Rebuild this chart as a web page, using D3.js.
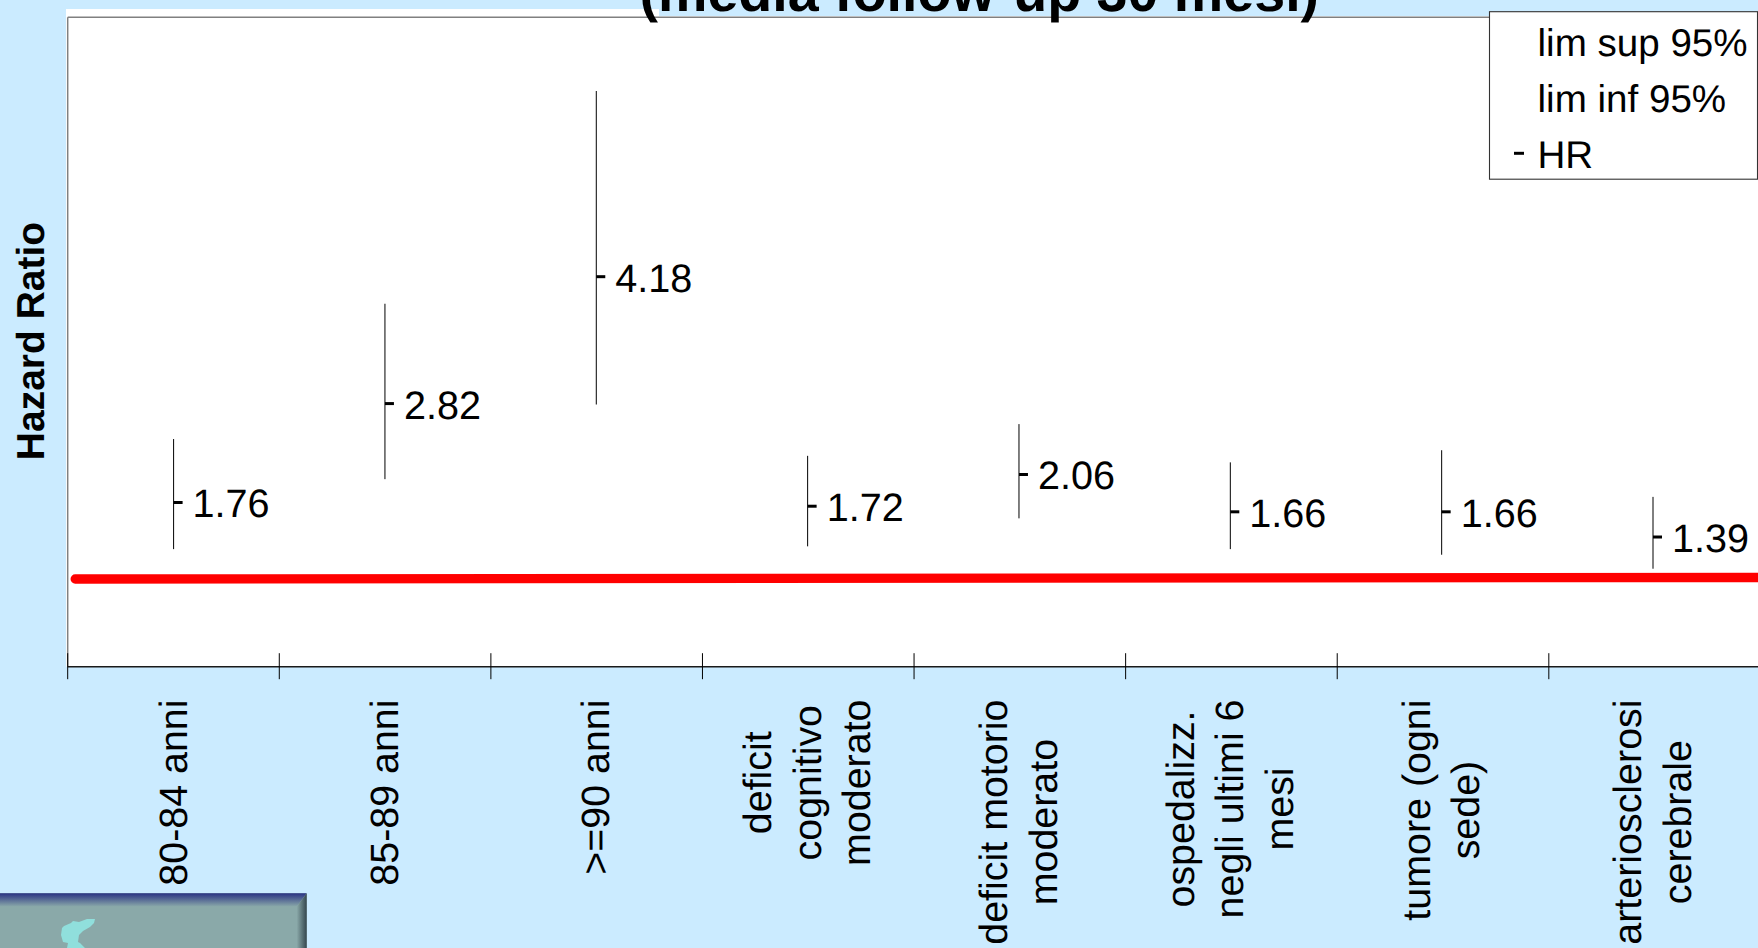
<!DOCTYPE html>
<html>
<head>
<meta charset="utf-8">
<script src="https://cdn.jsdelivr.net/npm/d3@7"></script>
<style>
  html, body { margin: 0; padding: 0; background: #cbebff; overflow: hidden; }
  svg { display: block; font-family: "Liberation Sans", Arial, sans-serif; text-rendering: geometricPrecision; }
  text { fill: #000; }
</style>
</head>
<body>
<div id="chart"></div>
<script>
// Hazard ratios with 95% confidence limits
const categories = [
  ["80-84 anni"],
  ["85-89 anni"],
  [">=90 anni"],
  ["deficit", "cognitivo", "moderato"],
  ["deficit motorio", "moderato"],
  ["ospedalizz.", "negli ultimi 6", "mesi"],
  ["tumore (ogni", "sede)"],
  ["arteriosclerosi", "cerebrale"]
];
const hazardRatio = [1.76, 2.82, 4.18, 1.72, 2.06, 1.66, 1.66, 1.39];
const limSup = [2.44, 3.89, 6.17, 2.26, 2.60, 2.19, 2.32, 1.82];
const limInf = [1.26, 2.01, 2.81, 1.29, 1.59, 1.26, 1.20, 1.05];
const legendItems = ["lim sup 95%", "lim inf 95%", "HR"];
const titleText = "(media follow-up 30 mesi)";
const yTitle = "Hazard Ratio";
// Hand-placed reference line: position along the category axis and height in HR units
const refLineAxis = [0.0354, 8];
const refLineHR = [0.94, 0.956];
// Outline of the regional emblem in the footer badge
const emblemOutline = [[62,928],[64,926],[71,923],[73,921],[79,922],[87,919],[95,919],[94,923],[90,927],[83,931],[79,935],[78,942],[80,943],[85,948],[67,948],[68,943],[63,942],[61,935]];

const W = 1758, H = 948;
const plot = { left: 67.7, top: 17.3, bottom: 666.7 };
const bg = "#cbebff";

const svg = d3.select("#chart").append("svg").attr("width", W).attr("height", H);

const defs = svg.append("defs");
const topBevel = defs.append("linearGradient").attr("id", "bevel-top").attr("x1", 0).attr("x2", 0).attr("y1", 0).attr("y2", 1);
topBevel.append("stop").attr("offset", 0).attr("stop-color", "#2a3384");
topBevel.append("stop").attr("offset", 1).attr("stop-color", "#8aa9a9");
const rightBevel = defs.append("linearGradient").attr("id", "bevel-right").attr("x1", 0).attr("x2", 1).attr("y1", 0).attr("y2", 0);
rightBevel.append("stop").attr("offset", 0).attr("stop-color", "#8aa9a9");
rightBevel.append("stop").attr("offset", 1).attr("stop-color", "#34464e");

// Scales
const axisScale = d3.scaleLinear().domain([0, categories.length]).range([plot.left, 1760.4]);
const x = d3.scalePoint().domain(d3.range(categories.length)).range([173.6, 1653]);
const y = d3.scaleLinear().domain([0, 6.96]).range([plot.bottom, plot.top]);

// Plot background and title strip
svg.append("rect").attr("x", 66).attr("y", 9).attr("width", W - 66).attr("height", plot.bottom - 9).attr("fill", "#fff");
svg.append("rect").attr("x", 659).attr("y", 0).attr("width", W - 659).attr("height", 16).attr("fill", bg);

// Plot frame
svg.append("line").attr("x1", plot.left).attr("x2", W).attr("y1", plot.top).attr("y2", plot.top)
  .attr("stroke", "#808080").attr("stroke-width", 1.5);
svg.append("line").attr("x1", plot.left).attr("x2", plot.left).attr("y1", plot.top).attr("y2", plot.bottom)
  .attr("stroke", "#808080").attr("stroke-width", 1.5);

// Title, cut by the top edge of the page
svg.append("text").attr("x", 639.5).attr("y", 10.5)
  .attr("font-size", 55.6).attr("font-weight", "bold").text(titleText);

// Confidence intervals
svg.append("g").selectAll("line").data(hazardRatio).join("line")
  .attr("x1", (d, i) => x(i)).attr("x2", (d, i) => x(i))
  .attr("y1", (d, i) => y(limSup[i])).attr("y2", (d, i) => y(limInf[i]))
  .attr("stroke", "#000").attr("stroke-width", 1);

// HR markers
svg.append("g").selectAll("line").data(hazardRatio).join("line")
  .attr("x1", (d, i) => x(i)).attr("x2", (d, i) => x(i) + 9)
  .attr("y1", d => y(d)).attr("y2", d => y(d))
  .attr("stroke", "#000").attr("stroke-width", 3);

// HR value labels
svg.append("g").selectAll("text").data(hazardRatio).join("text")
  .attr("x", (d, i) => x(i) + 19).attr("y", d => y(d) + 15)
  .attr("font-size", 39.6).text(d => d.toFixed(2));

// Reference line
svg.append("path")
  .attr("d", d3.line().x(d => axisScale(d[0])).y(d => y(d[1]))(d3.zip(refLineAxis, refLineHR)))
  .attr("fill", "none").attr("stroke", "#ff0000").attr("stroke-width", 9.3).attr("stroke-linecap", "round");

// Category axis with ticks crossing the line
const axisG = svg.append("g").attr("transform", `translate(0,${plot.bottom})`)
  .call(d3.axisBottom(axisScale).offset(0).tickValues(d3.range(categories.length + 1)).tickFormat("").tickSize(12.5).tickSizeOuter(0));
axisG.select(".domain").attr("stroke", "#1a1a1a").attr("stroke-width", 1.4);
axisG.selectAll(".tick line").attr("y1", -13.5).attr("stroke", "#000").attr("stroke-width", 1);

// Rotated, wrapped category labels, top-aligned under the axis
const labelTop = 699.5, lineStep = 49.6, fontPx = 39.4;
categories.forEach((lines, i) => {
  const g = svg.append("g");
  const items = g.selectAll("text").data(lines).join("text")
    .attr("font-size", fontPx).attr("text-anchor", "middle")
    .attr("transform", "rotate(-90)")
    .attr("x", 0)
    .attr("y", (d, k) => (k - (lines.length - 1) / 2) * lineStep + 13)
    .text(d => d);
  const longest = d3.max(items.nodes(), n => n.getComputedTextLength());
  g.attr("transform", `translate(${x(i)},${labelTop + longest / 2})`);
});

// Y-axis title
svg.append("text").attr("transform", "translate(44,341) rotate(-90)")
  .attr("text-anchor", "middle").attr("font-size", 39).attr("font-weight", "bold").text(yTitle);

// Legend
const legend = svg.append("g");
legend.append("rect").attr("x", 1489.5).attr("y", 11.7).attr("width", 268).attr("height", 167.5)
  .attr("fill", "#fff").attr("stroke", "#333").attr("stroke-width", 1.1);
legend.selectAll("text").data(legendItems).join("text")
  .attr("x", 1537.5).attr("y", (d, i) => 55.5 + i * 56)
  .attr("font-size", 38.6).text(d => d);
legend.append("line").attr("x1", 1514).attr("x2", 1524).attr("y1", 153.3).attr("y2", 153.3)
  .attr("stroke", "#000").attr("stroke-width", 3);

// Footer badge with bevelled edges
const badge = svg.append("g");
badge.append("rect").attr("x", 0).attr("y", 893.3).attr("width", 306.7).attr("height", H - 893.3).attr("fill", "#8aa9a9");
badge.append("polygon").attr("points", "0,893.3 306.7,893.3 296.7,906.7 0,906.7").attr("fill", "url(#bevel-top)");
badge.append("polygon").attr("points", "306.7,893.3 306.7,948 296.7,948 296.7,906.7").attr("fill", "url(#bevel-right)");
badge.append("path").attr("d", d3.line().curve(d3.curveLinearClosed)(emblemOutline)).attr("fill", "#90dfdc");
</script>
</body>
</html>
